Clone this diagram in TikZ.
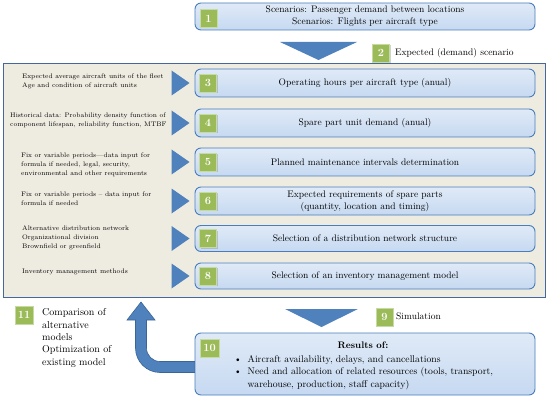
\documentclass[tikz,border=0pt]{standalone}
\usetikzlibrary{shadows}
\definecolor{boxfill}{HTML}{C6D9F1}
\definecolor{boxline}{HTML}{4A7EBB}
\definecolor{panelfill}{HTML}{EEECE1}
\definecolor{panelline}{HTML}{44689E}
\definecolor{badgefill}{HTML}{9BBB59}
\definecolor{trifill}{HTML}{4F81BD}
\definecolor{arrowline}{HTML}{3A6599}
\tikzset{
 stepbox/.style={draw=boxline, line width=0.9pt, rounded corners=6pt, top color=boxfill!55!white, bottom color=boxfill, minimum width=340pt, align=center, font=\fontsize{9.5}{12}\selectfont, inner sep=1pt},
 badge/.style={fill=badgefill, draw=badgefill!55!white, line width=0.6pt, text=white, minimum width=17pt, minimum height=18pt, inner sep=0pt, font=\fontsize{11}{12}\selectfont\bfseries, drop shadow={opacity=0.35, shadow xshift=1pt, shadow yshift=-1pt}},
 note/.style={align=left, anchor=west, inner sep=0pt, font=\fontsize{6.6}{9}\selectfont},
 trishape/.style={fill=trifill, draw=none},
 caption/.style={anchor=west, inner sep=0pt, font=\fontsize{9.5}{12}\selectfont}
}
\begin{document}
\begin{tikzpicture}[x=1pt,y=1pt]
\useasboundingbox (0,0) rectangle (550,400);
\fill[white] (0,0) rectangle (550,400);
% panel
\node[draw=panelline, line width=1.4pt, fill=panelfill, minimum width=542pt, minimum height=234pt, inner sep=0pt, anchor=south west] (panel) at (3,102) {};
% box 1
\node[stepbox, minimum height=27pt] (b1) at (365,383.5) {Scenarios: Passenger demand between locations\\Scenarios: Flights per aircraft type};
\node[badge] (n1) at (208.5,381.5) {1};
\fill[trishape] (280,358) -- (357,358) -- (318.5,340) -- cycle;
\node[badge] (n2) at (381,347) {2};
\node[caption] (l2) at (395,347) {Expected (demand) scenario};
% rows
\node[stepbox, minimum height=28pt] (b3) at (365,317) {Operating hours per aircraft type (anual)};
\node[stepbox, minimum height=28pt] (b4) at (365,277) {Spare part unit demand (anual)};
\node[stepbox, minimum height=28pt] (b5) at (365,238) {Planned maintenance intervals determination};
\node[stepbox, minimum height=28pt] (b6) at (365,199) {Expected requirements of spare parts\\(quantity, location and timing)};
\node[stepbox, minimum height=26pt] (b7) at (365,161.5) {Selection of a distribution network structure};
\node[stepbox, minimum height=26pt] (b8) at (365,124) {Selection of an inventory management model};
\foreach \i in {3,...,8}{
  \node[badge] (n\i) at ([xshift=13.5pt]b\i.west) {\i};
  \fill[trishape] ([xshift=-5pt]b\i.west) -- ++(-18,12.5) -- ++(0,-25) -- cycle;
}
% left notes
\node[note] (t3) at (22,318.5) {Expected average aircraft units of the fleet\\Age and condition of aircraft units};
\node[note] (t4) at (10,280) {Historical data: Probability density function of\\component lifespan, reliability function, MTBF};
\node[note] (t5) at (21,235) {Fix or variable periods---data input for\\formula if needed, legal, security,\\environmental and other requirements};
\node[note] (t6) at (21,201.5) {Fix or variable periods -- data input for\\formula if needed};
\node[note] (t7) at (22,162) {Alternative distribution network\\Organizational division\\Brownfield or greenfield};
\node[note] (t8) at (22,128) {Inventory management methods};
% simulation
\fill[trishape] (285,91) -- (358,91) -- (321.5,73) -- cycle;
\node[badge] (n9) at (384.5,83) {9};
\node[caption] (l9) at (396,84) {Simulation};
% box 10
\node[stepbox, minimum height=62pt] (b10) at (365,36) {};
\node[badge, minimum width=19pt] (n10) at (209.5,52) {10};
\node[font=\fontsize{9.5}{12}\selectfont\bfseries, inner sep=0pt] (r10) at (363,55) {Results of:};
\node[anchor=west, inner sep=0pt, font=\fontsize{9.7}{12.5}\selectfont] (l10) at (234,28) {\begin{tabular}{@{}l@{\hspace{6pt}}l@{}}\textbullet & Aircraft availability, delays, and cancellations\\ \textbullet & Need and allocation of related resources (tools, transport,\\ & warehouse, production, staff capacity)\end{tabular}};
% 11
\node[badge, minimum width=18pt] (n11) at (24,85) {11};
\node[anchor=west, align=left, inner sep=0pt, font=\fontsize{10}{12.4}\selectfont] (l11) at (42,62) {Comparison of\\alternative\\models\\Optimization of\\existing model};
% curved arrow
\filldraw[fill=trifill, draw=arrowline, line width=0.6pt] (b10.west |- 0,38.5) -- (160,38.5) arc[start angle=270, end angle=180, radius=13.5] -- (146.5,80) -- (155,80) -- (141,98) -- (127,80) -- (135.5,80) -- (135.5,52) arc[start angle=180, end angle=270, radius=24.5] -- (b10.west |- 0,27.5) -- cycle;
\end{tikzpicture}
\end{document}
